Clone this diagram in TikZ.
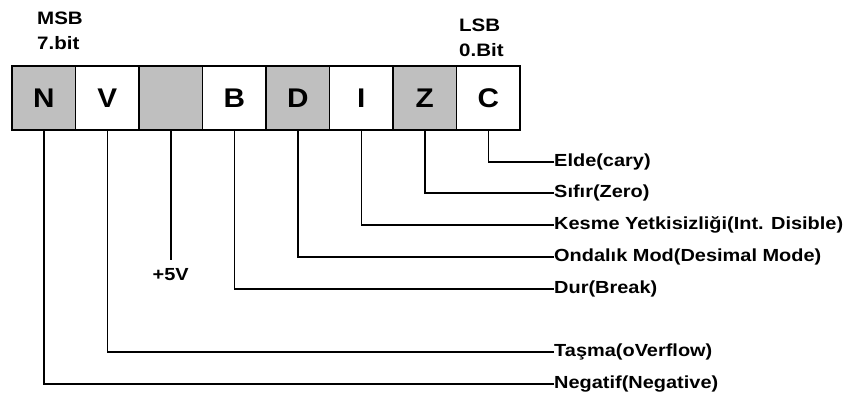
\documentclass[tikz,border=0pt]{standalone}
\usepackage{fontspec}
\setmainfont{Liberation Sans}
\newfontfamily\lblfont[FakeStretch=1.14]{Liberation Sans}
\newfontfamily\cellfont[FakeStretch=1.1]{Liberation Sans}
\usepackage{tikz}

\begin{document}
\begin{tikzpicture}[x=1pt,y=-1pt,
  bitcell/.style={draw,line width=1.5pt,minimum width=63.5pt,minimum height=64pt,inner sep=0pt,font=\cellfont\bfseries\fontsize{27}{27}\selectfont},
  grcell/.style={bitcell,fill=black!25},
  flaglbl/.style={anchor=west,inner sep=0pt,font=\lblfont\bfseries\fontsize{17.5}{17.5}\selectfont},
  endlbl/.style={anchor=north west,inner sep=0pt,align=left,font=\lblfont\bfseries\fontsize{18}{25}\selectfont},
  wire/.style={line width=1.5pt}]
\useasboundingbox (0,0) rectangle (850,394);
\node[endlbl] (msb) at (37,12) {MSB\\7.bit};
\node[endlbl] (lsb) at (459,19) {LSB\\0.Bit};
\node[grcell] (cN) at (43.75,98) {N};
\node[bitcell] (cV) at (107.25,98) {V};
\node[grcell] (cP) at (170.75,98) {};
\node[bitcell] (cB) at (234.25,98) {B};
\node[grcell] (cD) at (297.75,98) {D};
\node[bitcell] (cI) at (361.25,98) {I};
\node[grcell] (cZ) at (424.75,98) {Z};
\node[bitcell] (cC) at (488.25,98) {C};
\node[flaglbl] (lC) at (554,162) {Elde(cary)};
\node[flaglbl] (lZ) at (554,193) {Sıfır(Zero)};
\node[flaglbl] (lI) at (554,225) {Kesme Yetkisizliği(Int. Disible)};
\node[flaglbl] (lD) at (554,257) {Ondalık Mod(Desimal Mode)};
\node[flaglbl] (lB) at (554,289) {Dur(Break)};
\node[flaglbl] (lV) at (554,352) {Taşma(oVerflow)};
\node[flaglbl] (lN) at (554,384) {Negatif(Negative)};
\node[flaglbl,anchor=center] (p5) at (170.75,275) {+5V};
\draw[wire] (cC.south) |- (lC.west);
\draw[wire] (cZ.south) |- (lZ.west);
\draw[wire] (cI.south) |- (lI.west);
\draw[wire] (cD.south) |- (lD.west);
\draw[wire] (cB.south) |- (lB.west);
\draw[wire] (cV.south) |- (lV.west);
\draw[wire] (cN.south) |- (lN.west);
\draw[wire,shorten >=9pt] (cP.south) -- (p5.north);
\end{tikzpicture}
\end{document}
